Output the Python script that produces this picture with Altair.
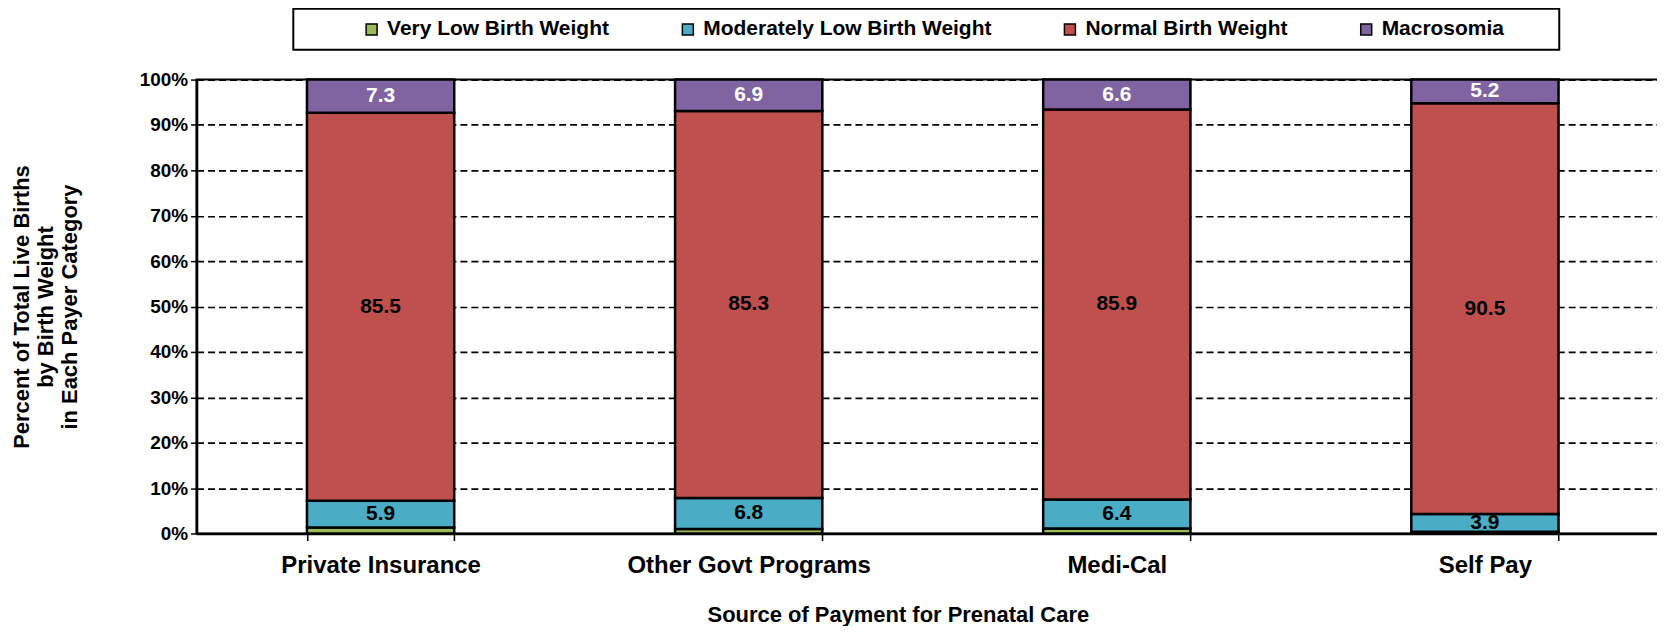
import altair as alt
import pandas as pd

payers = ["Private Insurance", "Other Govt Programs", "Medi-Cal", "Self Pay"]
categories = ["Very Low Birth Weight", "Moderately Low Birth Weight", "Normal Birth Weight", "Macrosomia"]
very_low = [1.3, 1.0, 1.1, 0.4]
mod_low = [5.9, 6.8, 6.4, 3.9]
normal = [85.5, 85.3, 85.9, 90.5]
macro = [7.3, 6.9, 6.6, 5.2]
colors = ["#9BBB59", "#4BACC6", "#C0504D", "#8064A2"]
y_ticks = [0, 10, 20, 30, 40, 50, 60, 70, 80, 90, 100]

series = [very_low, mod_low, normal, macro]
rows = []
for ci, (cat, vals) in enumerate(zip(categories, series)):
    for p, v in zip(payers, vals):
        rows.append({"payer": p, "cat": cat, "order": ci, "value": v})
df = pd.DataFrame(rows)

FONT = "Liberation Sans"

x_enc = alt.X(
    "payer:N",
    sort=payers,
    scale=alt.Scale(paddingInner=0.6, paddingOuter=0.3),
    axis=alt.Axis(
        title="Source of Payment for Prenatal Care",
        titleX=703, titleY=71, titleFontSize=22, titleFontWeight="bold",
        labelFontSize=24, labelFontWeight="bold", labelAngle=0, labelPadding=13,
        labelLimit=500,
        tickSize=7, tickBand="extent", tickColor="black", tickWidth=1.5,
        domainColor="black", domainWidth=2.5, grid=False, labelColor="black",
        titleColor="black",
    ),
)

base = alt.Chart(df).transform_stack(
    stack="value", groupby=["payer"], as_=["y0", "y1"],
    sort=[alt.SortField("order", order="ascending")],
).transform_calculate(
    mid="(datum.y0 + datum.y1) / 2",
    tcolor="datum.cat == 'Macrosomia' ? 'white' : 'black'",
)

bars = base.mark_bar(stroke="black", strokeWidth=2.5).encode(
    x=x_enc,
    y=alt.Y(
        "y0:Q",
        scale=alt.Scale(domain=[0, 100], nice=False),
        axis=alt.Axis(
            values=y_ticks, labelExpr="datum.value + '%'",
            title=["Percent of Total Live Births", "by Birth Weight", "in Each Payer Category"],
            titleFontSize=22, titleLineHeight=24, titleFontWeight="bold", titlePadding=58,
            labelFontSize=19, labelFontWeight="bold", labelPadding=3,
            tickSize=6, tickColor="black", tickWidth=1.5,
            domainColor="black", domainWidth=2.5,
            grid=True, gridColor="black", gridDash=[7, 4], gridWidth=1.7,
            labelColor="black", titleColor="black",
        ),
    ),
    y2="y1:Q",
    fill=alt.Fill(
        "cat:N",
        scale=alt.Scale(domain=categories, range=colors),
        legend=alt.Legend(
            orient="none", legendX=97, legendY=-71, direction="horizontal",
            title=" ", titleOrient="right", titlePadding=45,
            symbolType="square", symbolSize=121, symbolStrokeColor="black",
            symbolStrokeWidth=1.5, symbolOffset=58, columnPadding=10,
            labelFontSize=21, labelFontWeight="bold", labelOffset=5, labelColor="black",
            padding=10, fillColor="white", strokeColor="black", labelLimit=400,
        ),
    ),
    order=alt.Order("order:Q"),
)

labels = base.transform_filter(
    "datum.cat != 'Very Low Birth Weight'"
).mark_text(fontSize=21, fontWeight="bold", align="center", baseline="middle", font=FONT).encode(
    x=alt.X("payer:N", sort=payers),
    y=alt.Y("mid:Q"),
    text=alt.Text("value:Q", format=".1f"),
    color=alt.Color("tcolor:N", scale=None),
)

chart = alt.layer(bars, labels).properties(
    width=1476, height=455,
    autosize=alt.AutoSizeParams(type="none"),
    padding={"left": 189, "top": 71, "right": -12, "bottom": 92},
).configure(font=FONT).configure_view(
    stroke="black", strokeWidth=2
).configure_legend(strokeWidth=2)

chart.save("out.html", embed_options={"renderer": "svg", "actions": False})
